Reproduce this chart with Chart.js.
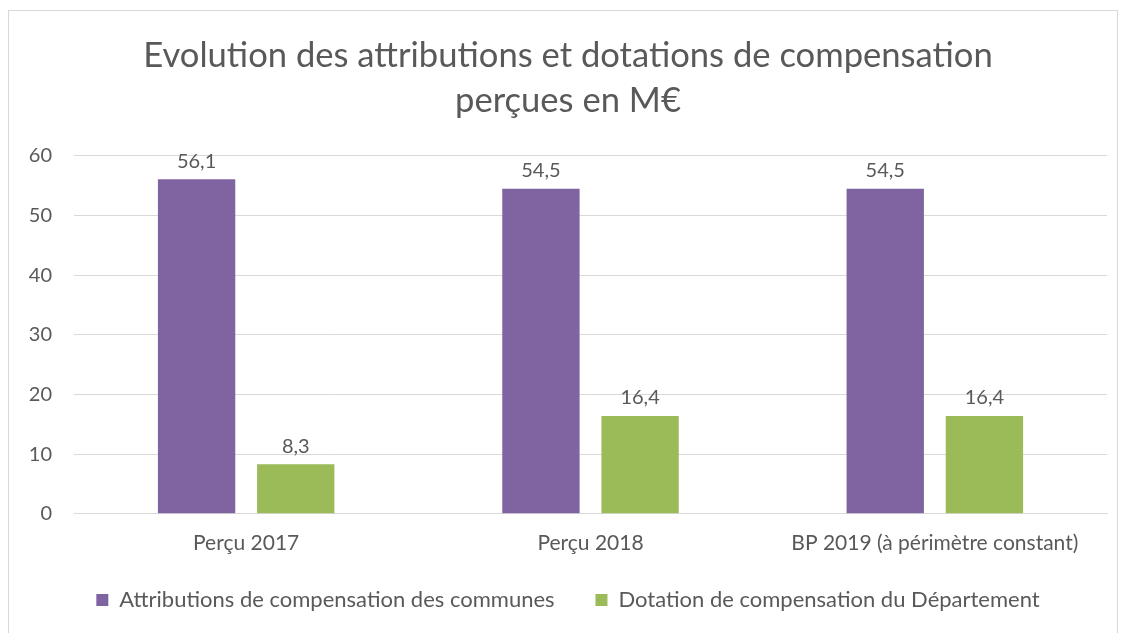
<!DOCTYPE html>
<html>
<head>
<meta charset="utf-8">
<script src="https://cdn.jsdelivr.net/npm/chart.js@4/dist/chart.umd.min.js"></script>
<style>
  body { margin: 0; background: #fff; }
  #frame { position: absolute; left: 8px; top: 10px; width: 1110px; height: 640px;
           border: 1px solid #d9d9d9; box-sizing: border-box; }
  #wrap { position: absolute; left: 0; top: 0; width: 1108px; height: 622px; }
</style>
</head>
<body>
<div id="frame"><div id="wrap"><canvas id="myChart"></canvas></div></div>
<script>
"use strict";

const categories = ["Perçu 2017", "Perçu 2018", "BP 2019 (à périmètre constant)"];
const communes = [56.1, 54.5, 54.5];
const departement = [8.3, 16.4, 16.4];
const yTicks = [0, 10, 20, 30, 40, 50, 60];

const textColor = '#595959';
const fontFamily = 'Lato, "Open Sans", sans-serif';

// draw the value above every bar
const barLabels = {
  id: 'barLabels',
  afterDatasetsDraw(chart) {
    const ctx = chart.ctx;
    ctx.save();
    ctx.fillStyle = textColor;
    ctx.font = '20px ' + fontFamily;
    ctx.textAlign = 'center';
    ctx.textBaseline = 'bottom';
    chart.data.datasets.forEach(function(ds, i) {
      chart.getDatasetMeta(i).data.forEach(function(bar, j) {
        ctx.fillText(ds.data[j].toFixed(1).replace('.', ','), bar.x, bar.y - 8);
      });
    });
    ctx.restore();
  }
};

function createChart() {
  let myChart = document.getElementById("myChart").getContext("2d");
  return new Chart(myChart, {
    type: 'bar',
    data: {
      labels: categories,
      datasets: [{
        label: 'Attributions de compensation des communes',
        data: communes,
        backgroundColor: '#8064a2',
        categoryPercentage: 0.576,
        barPercentage: 0.78
      }, {
        label: 'Dotation de compensation du Département',
        data: departement,
        backgroundColor: '#9bbb59',
        categoryPercentage: 0.576,
        barPercentage: 0.78
      }]
    },
    options: {
      responsive: true,
      maintainAspectRatio: false,
      animation: false,
      layout: { padding: { left: 20, right: 10, top: 18, bottom: 12 } },
      plugins: {
        title: {
          display: true,
          text: ['Evolution des attributions et dotations de compensation', 'perçues en M€'],
          color: textColor,
          font: { family: fontFamily, size: 34.6, weight: 'normal', lineHeight: 1.3 },
          padding: { top: 4, bottom: 33 }
        },
        legend: {
          position: 'bottom',
          labels: {
            color: textColor,
            font: { family: fontFamily, size: 22 },
            boxWidth: 12,
            boxHeight: 12,
            padding: 24,
            // a little extra room after the first entry, like the original
            generateLabels(chart) {
              const items = Chart.defaults.plugins.legend.labels.generateLabels(chart);
              items[0].text += '\u00a0\u00a0\u00a0';
              return items;
            }
          }
        },
        tooltip: { enabled: false }
      },
      scales: {
        x: {
          grid: { display: false },
          border: { color: '#d9d9d9' },
          ticks: { color: textColor, font: { family: fontFamily, size: 21 }, padding: 9 }
        },
        y: {
          min: 0,
          max: 60,
          afterBuildTicks(axis) { axis.ticks = yTicks.map(v => ({ value: v })); },
          afterFit(axis) { axis.width = 45; },
          grid: { color: '#d9d9d9', drawTicks: false },
          border: { display: false },
          ticks: { color: textColor, font: { family: fontFamily, size: 20 }, padding: 22 }
        }
      }
    },
    plugins: [barLabels]
  });
}

createChart();
</script>
</body>
</html>
